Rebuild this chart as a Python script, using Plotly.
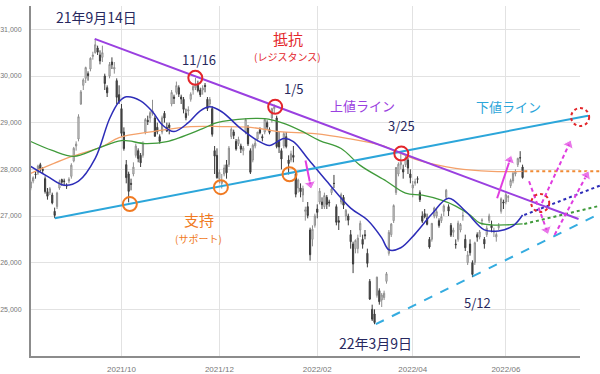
import pandas as pd
import plotly.graph_objects as go

# ---------------- data ----------------
HOLIDAYS = ["2021-08-09", "2021-09-20", "2021-09-23", "2021-11-03", "2021-11-23",
            "2021-12-31", "2022-01-03", "2022-01-10", "2022-02-11", "2022-02-23",
            "2022-03-21", "2022-04-29", "2022-05-03", "2022-05-04", "2022-05-05",
            "2022-07-18"]
bd = pd.bdate_range("2021-08-02", "2022-06-10")
DATES = [d.strftime("%Y-%m-%d") for d in bd if d.strftime("%Y-%m-%d") not in HOLIDAYS]

OPEN = [
    27500, 27800, 27650, 27600, 27750, 27900, 27920, 28100, 28000, 27800, 27520, 27500, 27450, 27100, 27200, 27600, 27780, 27750, 27650, 27750, 27850,
    28180, 28500, 28650, 29400, 29800, 29950, 30050, 30150, 30420, 30500, 30600, 30450, 30400, 30000, 29750, 30000, 30300, 30150, 29900, 29600,
    29300, 28800, 28100, 27900, 27700, 27900, 28300, 28400, 28300, 28300, 28800, 29050, 29100, 29200, 29100, 28900, 28700, 28800, 29200, 28900, 28950,
    29400, 29550, 29650, 29750, 29550, 29500, 29200, 29250, 29500, 29700, 29750, 29800, 29700, 29700, 29800, 29500, 29400, 29300, 28400, 28300,
    27800, 27700, 27900, 28100, 28100, 28700, 28800, 28600, 28550, 28500, 28400, 28800, 28900, 28400, 28200, 28500, 28650, 28850, 28700, 28800, 29000, 28850,
    29100, 29300, 29100, 28600, 28400, 28500, 28700, 28200, 28200, 28300, 27900, 27600, 27600, 27450, 27100, 27200, 26700, 26500, 26800,
    27150, 27300, 27300, 27200, 27400, 27300, 27500, 27700, 27200, 26900, 27300, 27400, 27000, 27000, 26600, 26400, 26300, 26300,
    26700, 26500, 26600, 26200, 25600, 25000, 24900, 25300, 25400, 25200, 25250, 25600, 26200, 26600, 26900, 27500, 27900, 28100, 28000, 28100, 28200, 27900,
    27600, 27700, 27800, 27500, 27000, 27050, 26950, 26500, 26500, 27000, 27000, 26900, 26900, 27100, 27400, 27200, 26800, 26650, 26400, 26500,
    26700, 27000, 26500, 26000, 26400, 26000, 26000, 26600, 26550, 26900, 26500, 26600, 26900, 26800, 26650, 26550, 26750, 27100, 27300,
    27300, 27400, 27650, 27750, 27900, 28100, 28250, 28050]
HIGH = [
    27800, 27850, 27700, 27760, 27850, 27960, 28100, 28140, 28050, 27850, 27600, 27620, 27500, 27180, 27520, 27780, 27800, 27800, 27700, 27830, 28130,
    28480, 28600, 29180, 29700, 29950, 30200, 30100, 30400, 30520, 30795, 30650, 30550, 30650, 30050, 29800, 30300, 30400, 30300, 29950, 29800,
    29400, 28900, 28200, 27950, 27800, 28150, 28550, 28450, 28350, 28600, 29100, 29150, 29250, 29490, 29150, 29000, 28750, 29150, 29250, 29000, 29000,
    29700, 29600, 29880, 29800, 29600, 29550, 29300, 29350, 29650, 29800, 29960, 29900, 29750, 29800, 29850, 29550, 29550, 29350, 28500, 28450,
    28000, 27900, 28100, 28200, 28500, 28900, 28850, 28650, 28700, 28550, 28500, 29100, 28950, 28450, 28550, 28650, 28800, 28900, 28750, 29100, 29050, 28900,
    29320, 29388, 29150, 28800, 28450, 28800, 28800, 28300, 28400, 28500, 27950, 27800, 27700, 27650, 27200, 27300, 26750, 26800, 27050,
    27250, 27600, 27400, 27500, 27450, 27350, 27600, 27880, 27250, 27000, 27500, 27450, 27150, 27050, 26700, 26450, 26500, 26600,
    26900, 26600, 26700, 26300, 25650, 25100, 25000, 25700, 25450, 25350, 25400, 25800, 26700, 26850, 27250, 28050, 28150, 28338, 28100, 28300, 28250, 28000,
    27750, 27800, 27850, 27550, 27100, 27150, 27050, 26550, 26850, 27200, 27150, 26950, 27050, 27250, 27580, 27250, 26850, 26750, 26500, 26900,
    26850, 27100, 26600, 26250, 26500, 26050, 26450, 26650, 26700, 26950, 26550, 26800, 27050, 26900, 26750, 26650, 26850, 27400, 27350,
    27500, 27450, 27800, 27950, 28000, 28250, 28389, 28100]
LOW = [
    27480, 27600, 27500, 27550, 27700, 27800, 27880, 27950, 27900, 27480, 27350, 27450, 27250, 26954, 27150, 27560, 27650, 27640, 27580, 27700, 27800,
    28150, 28400, 28600, 29380, 29700, 29850, 29900, 30100, 30350, 30480, 30450, 30250, 30300, 29700, 29550, 29950, 30150, 30050, 29400, 29400,
    28700, 28400, 27700, 27293, 27550, 27850, 28250, 28150, 28050, 28250, 28750, 28950, 29000, 29150, 28700, 28750, 28550, 28750, 29000, 28800, 28750,
    29350, 29400, 29600, 29550, 29400, 29200, 29050, 29150, 29450, 29600, 29700, 29650, 29550, 29600, 29650, 29250, 29350, 28700, 27900, 27800,
    27700, 27588, 27850, 27800, 28050, 28650, 28650, 28400, 28500, 28350, 28300, 28750, 28500, 27900, 28150, 28450, 28600, 28750, 28600, 28750, 28850, 28750,
    29000, 29200, 28450, 28350, 28000, 28450, 28450, 27889, 28150, 28150, 27400, 27500, 27400, 27300, 26900, 26950, 26044, 26350, 26750,
    26950, 27250, 27150, 27150, 27150, 27200, 27450, 27600, 26800, 26700, 27250, 27150, 26900, 26800, 26300, 25776, 26200, 26200,
    26550, 26300, 26500, 25900, 25200, 24750, 24681, 25250, 25100, 25050, 25200, 25550, 26150, 26550, 26850, 27450, 27850, 28000, 27800, 28050, 27900, 27700,
    27400, 27650, 27700, 27300, 26850, 26950, 26800, 26300, 26450, 26950, 26950, 26750, 26850, 27000, 27350, 27000, 26550, 26550, 26300, 26450,
    26650, 26900, 26250, 25950, 26150, 25688, 25950, 26450, 26500, 26800, 26300, 26550, 26850, 26650, 26550, 26450, 26700, 27050, 27150,
    27250, 27300, 27600, 27700, 27850, 28050, 28150, 27800]
CLOSE = [
    27781, 27641, 27584, 27728, 27820, 27888, 28070, 28015, 27977, 27523, 27424, 27585, 27281, 27013, 27494, 27732, 27724, 27742, 27641, 27789, 28089,
    28451, 28543, 29128, 29660, 29916, 30181, 30008, 30381, 30447, 30670, 30511, 30323, 30500, 29839, 29639, 30248, 30240, 30183, 29544, 29452,
    28771, 28444, 27822, 27528, 27678, 28048, 28498, 28230, 28140, 28550, 29068, 29025, 29215, 29255, 28708, 28804, 28600, 29106, 29098, 28820, 28892,
    29647, 29520, 29794, 29611, 29507, 29285, 29106, 29277, 29609, 29776, 29808, 29688, 29598, 29745, 29774, 29302, 29499, 28751, 28283, 27821,
    27935, 27753, 28029, 27927, 28455, 28860, 28725, 28437, 28640, 28432, 28459, 29066, 28545, 27937, 28517, 28562, 28798, 28782, 28676, 29069, 28906, 28791,
    29301, 29332, 28487, 28478, 28222, 28765, 28489, 28124, 28333, 28257, 27467, 27772, 27522, 27588, 27131, 27011, 26170, 26717, 27001,
    27078, 27533, 27241, 27440, 27248, 27284, 27579, 27696, 26865, 26865, 27460, 27232, 27122, 26910, 26449, 25970, 26476, 26526,
    26844, 26393, 26577, 25985, 25221, 24790, 24717, 25690, 25163, 25307, 25346, 25762, 26652, 26827, 27224, 28040, 28110, 28149, 27943, 28252, 28027, 27821,
    27665, 27736, 27787, 27350, 26888, 26985, 26821, 26335, 26843, 27172, 27093, 26799, 26985, 27217, 27553, 27105, 26590, 26700, 26386, 26847,
    26818, 27003, 26319, 26167, 26213, 25748, 26427, 26547, 26659, 26911, 26402, 26739, 27001, 26748, 26677, 26604, 26781, 27369, 27279,
    27457, 27413, 27761, 27915, 27943, 28234, 28246, 27824]
assert len(DATES) == len(OPEN) == len(HIGH) == len(LOW) == len(CLOSE)

# moving averages
MA25_DATES = ["2021-08-05", "2021-08-17", "2021-08-26", "2021-09-03", "2021-09-14", "2021-09-24", "2021-09-30",
              "2021-10-05", "2021-10-13", "2021-10-20", "2021-10-26", "2021-11-02", "2021-11-11", "2021-11-18",
              "2021-11-25", "2021-12-02", "2021-12-14", "2021-12-23", "2021-12-30", "2022-01-12", "2022-01-18",
              "2022-01-26", "2022-02-07", "2022-02-22", "2022-03-04", "2022-03-14", "2022-03-17", "2022-03-25",
              "2022-04-04", "2022-04-13", "2022-04-22", "2022-05-09", "2022-05-19", "2022-05-27", "2022-06-06",
              "2022-06-10"]
MA25_VALS = [28064, 27851, 27660, 27745, 28234, 29085, 29447, 29553, 29468, 29234, 28957, 28809, 29000, 29255,
             29340, 29234, 28872, 28617, 28511, 28660, 28596, 28234, 27745, 27170, 26915, 26532, 26277, 26319,
             26617, 27043, 27383, 27106, 26702, 26681, 26787, 27021]
MA75_DATES = ["2021-08-05", "2021-08-19", "2021-09-01", "2021-09-15", "2021-10-01", "2021-10-15", "2021-10-28",
              "2021-11-19", "2021-11-30", "2021-12-17", "2021-12-28", "2022-01-11", "2022-01-21", "2022-02-02",
              "2022-02-16", "2022-03-01", "2022-03-16", "2022-03-29", "2022-04-07", "2022-04-19", "2022-04-27",
              "2022-05-11", "2022-05-17", "2022-05-24", "2022-06-01", "2022-06-10"]
MA75_VALS = [28596, 28404, 28277, 28447, 28617, 28553, 28596, 28872, 29000, 29085, 29085, 29000, 28830, 28617,
             28447, 28085, 27745, 27489, 27447, 27340, 27213, 27021, 26851, 26809, 26809, 26830]
MA200_DATES = ["2021-08-05", "2021-08-30", "2021-09-17", "2021-09-30", "2021-10-20", "2021-11-12", "2021-12-02",
               "2021-12-21", "2022-01-07", "2022-01-31", "2022-02-21", "2022-03-14", "2022-03-25", "2022-04-07",
               "2022-04-27", "2022-05-24", "2022-06-10"]
MA200_VALS = [27915, 28255, 28489, 28681, 28809, 28915, 28915, 28894, 28809, 28766, 28660, 28511, 28340, 28170,
              28021, 27957, 27957]

# projections (dotted) of the moving averages
PROJ_DATES = ["2022-06-10", "2022-07-28"]
PROJ_MA25 = [27021, 27660]
PROJ_MA75 = [26830, 27225]
PROJ_MA200 = [27957, 27957]

# trend lines
RESIST_DATES, RESIST_VALS = ["2021-09-14", "2022-07-14"], [30795, 26936]
SUPPORT_DATES, SUPPORT_VALS = ["2021-08-20", "2022-07-20"], [26954, 29149]
LOWER_DATES, LOWER_VALS = ["2022-03-09", "2022-07-28"], [24681, 27062]

# circled points
RED_CIRCLES = [("2021-11-16", 29960), ("2022-01-05", 29340), ("2022-03-25", 28338)]
ORANGE_CIRCLES = [("2021-10-06", 27255), ("2021-12-02", 27617), ("2022-01-14", 27894)]
DOTTED_CIRCLES = [("2022-06-20", 27280), ("2022-07-15", 29120)]

# arrows (tail, head)
SOLID_ARROWS = [(["2022-01-24", "2022-01-27"], [28190, 27680]),
                (["2022-05-24", "2022-06-01"], [27380, 28200])]
DASHED_ARROWS = [(["2022-06-13", "2022-06-24"], [27745, 26702]),
                 (["2022-06-21", "2022-07-08"], [27277, 28532]),
                 (["2022-06-29", "2022-07-19"], [26596, 27872])]

# labels: (text, date, value, size, color)
NAVY = "#27285e"
RED = "#e3262b"
PURPLE = "#9a40e0"
CYAN = "#2ca6da"
ORANGE = "#f07a22"
MAGENTA = "#e03ce0"
LABELS = [
    ("21年9月14日", "2021-09-15", 31255, 14, NAVY),
    ("11/16", "2021-11-18", 30362, 13, NAVY),
    ("抵抗", "2022-01-13", 30809, 15, RED),
    ("(レジスタンス)", "2022-01-13", 30426, 10, RED),
    ("1/5", "2022-01-17", 29723, 13, NAVY),
    ("上値ライン", "2022-03-01", 29362, 13, PURPLE),
    ("3/25", "2022-03-25", 28936, 13, NAVY),
    ("下値ライン", "2022-05-31", 29340, 13, CYAN),
    ("支持", "2021-11-18", 26915, 15, ORANGE),
    ("(サポート)", "2021-11-18", 26511, 10, ORANGE),
    ("22年3月9日", "2022-03-09", 24277, 14, NAVY),
    ("5/12", "2022-05-12", 25149, 13, NAVY),
]

X_TICKS = ["2021-10-01", "2021-12-01", "2022-02-01", "2022-04-01", "2022-06-01"]
X_TICK_TEXT = ["2021/10", "2021/12", "2022/02", "2022/04", "2022/06"]
Y_TICKS = [25000, 26000, 27000, 28000, 29000, 30000, 31000]
Y_RANGE = [24000, 31500]
X_START = "2021-08-05 02:24"
X_END = "2022-07-14 02:24"
X2_END = "2022-07-27 10:19"

# ---------------- figure ----------------
RB = [dict(bounds=["sat", "mon"]), dict(values=HOLIDAYS)]
fig = go.Figure()

fig.add_trace(go.Candlestick(
    x=DATES, open=OPEN, high=HIGH, low=LOW, close=CLOSE,
    increasing=dict(line=dict(color="#8f8f8f", width=1), fillcolor="#ececec"),
    decreasing=dict(line=dict(color="#3c3c3c", width=1), fillcolor="#4a4a4a"),
    whiskerwidth=0, xaxis="x", yaxis="y", hoverinfo="skip"))

fig.add_trace(go.Scatter(x=MA200_DATES, y=MA200_VALS, mode="lines", line=dict(color="#f4a16a", width=1.3, shape="spline"), xaxis="x", yaxis="y"))
fig.add_trace(go.Scatter(x=MA75_DATES, y=MA75_VALS, mode="lines", line=dict(color="#3f9a3a", width=1.3, shape="spline"), xaxis="x", yaxis="y"))
fig.add_trace(go.Scatter(x=MA25_DATES, y=MA25_VALS, mode="lines", line=dict(color="#2d2db8", width=1.5, shape="spline"), xaxis="x", yaxis="y"))

# overlay layer (extends beyond the axis to the right edge)
fig.add_trace(go.Scatter(x=PROJ_DATES, y=PROJ_MA200, mode="lines", line=dict(color="#f08a35", width=2, dash="dot"), xaxis="x2", yaxis="y2"))
fig.add_trace(go.Scatter(x=PROJ_DATES, y=PROJ_MA75, mode="lines", line=dict(color="#3f9a3a", width=2, dash="dot"), xaxis="x2", yaxis="y2"))
fig.add_trace(go.Scatter(x=PROJ_DATES, y=PROJ_MA25, mode="lines", line=dict(color="#2d2db8", width=2, dash="dot"), xaxis="x2", yaxis="y2"))
fig.add_trace(go.Scatter(x=LOWER_DATES, y=LOWER_VALS, mode="lines", line=dict(color="#35ace0", width=2, dash="dash"), xaxis="x2", yaxis="y2"))
fig.add_trace(go.Scatter(x=SUPPORT_DATES, y=SUPPORT_VALS, mode="lines", line=dict(color=CYAN, width=2), xaxis="x2", yaxis="y2"))
fig.add_trace(go.Scatter(x=RESIST_DATES, y=RESIST_VALS, mode="lines", line=dict(color=PURPLE, width=2), xaxis="x2", yaxis="y2"))

for (xs, ys) in SOLID_ARROWS:
    fig.add_trace(go.Scatter(x=xs, y=ys, mode="lines+markers",
                             line=dict(color=MAGENTA, width=2),
                             marker=dict(symbol="triangle-up", size=[0, 10], color=MAGENTA, angleref="previous"),
                             xaxis="x2", yaxis="y2"))
for (xs, ys) in DASHED_ARROWS:
    fig.add_trace(go.Scatter(x=xs, y=ys, mode="lines+markers",
                             line=dict(color=MAGENTA, width=2, dash="4px,3px"),
                             marker=dict(symbol="triangle-up", size=[0, 10], color=MAGENTA, angleref="previous"),
                             xaxis="x2", yaxis="y2"))

shapes = []
def circ(d, v, r, color, dash="solid"):
    return dict(type="circle", xref="x2", yref="y2", xsizemode="pixel", ysizemode="pixel",
                xanchor=d, yanchor=v, x0=-r, x1=r, y0=-r, y1=r,
                line=dict(color=color, width=2, dash=dash), layer="above")
for d, v in RED_CIRCLES:
    shapes.append(circ(d, v, 7, RED))
for d, v in ORANGE_CIRCLES:
    shapes.append(circ(d, v, 7, ORANGE))
for d, v in DOTTED_CIRCLES:
    shapes.append(circ(d, v, 9, RED, "dot"))

annotations = []
for text, d, v, size, color in LABELS:
    annotations.append(dict(text=text, x=d, y=v, xref="x2", yref="y2", showarrow=False,
                            font=dict(family="Noto Sans CJK JP", size=size, color=color),
                            xanchor="center", yanchor="middle"))

fig.update_layout(
    width=600, height=374,
    margin=dict(l=28, r=0, t=6, b=15),
    paper_bgcolor="white", plot_bgcolor="rgba(0,0,0,0)",
    showlegend=False,
    shapes=shapes, annotations=annotations,
    xaxis=dict(domain=[0, 552 / 572], range=[X_START, X_END], rangebreaks=RB,
               tickvals=X_TICKS, ticktext=X_TICK_TEXT, showgrid=True, gridcolor="#e2e2e2", gridwidth=1,
               showline=True, linecolor="#8c8c8c", linewidth=2, zeroline=False, ticks="",
               ticklabelstandoff=4,
               tickfont=dict(family="Liberation Sans", size=8, color="#777777"),
               rangeslider=dict(visible=False), anchor="y"),
    yaxis=dict(domain=[0, 1], range=Y_RANGE, tickvals=Y_TICKS, tickformat=",",
               showgrid=True, gridcolor="#e2e2e2", gridwidth=1,
               showline=True, linecolor="#8c8c8c", linewidth=2, zeroline=False, ticks="",
               ticklabelstandoff=6,
               tickfont=dict(family="Liberation Sans", size=7, color="#777777"), anchor="x"),
    xaxis2=dict(domain=[0, 1], range=[X_START, X2_END], rangebreaks=RB, visible=False,
                showgrid=False, anchor="y2"),
    yaxis2=dict(domain=[0, 1], range=Y_RANGE, visible=False, showgrid=False, anchor="x2"),
)

fig.write_html("out.html")
